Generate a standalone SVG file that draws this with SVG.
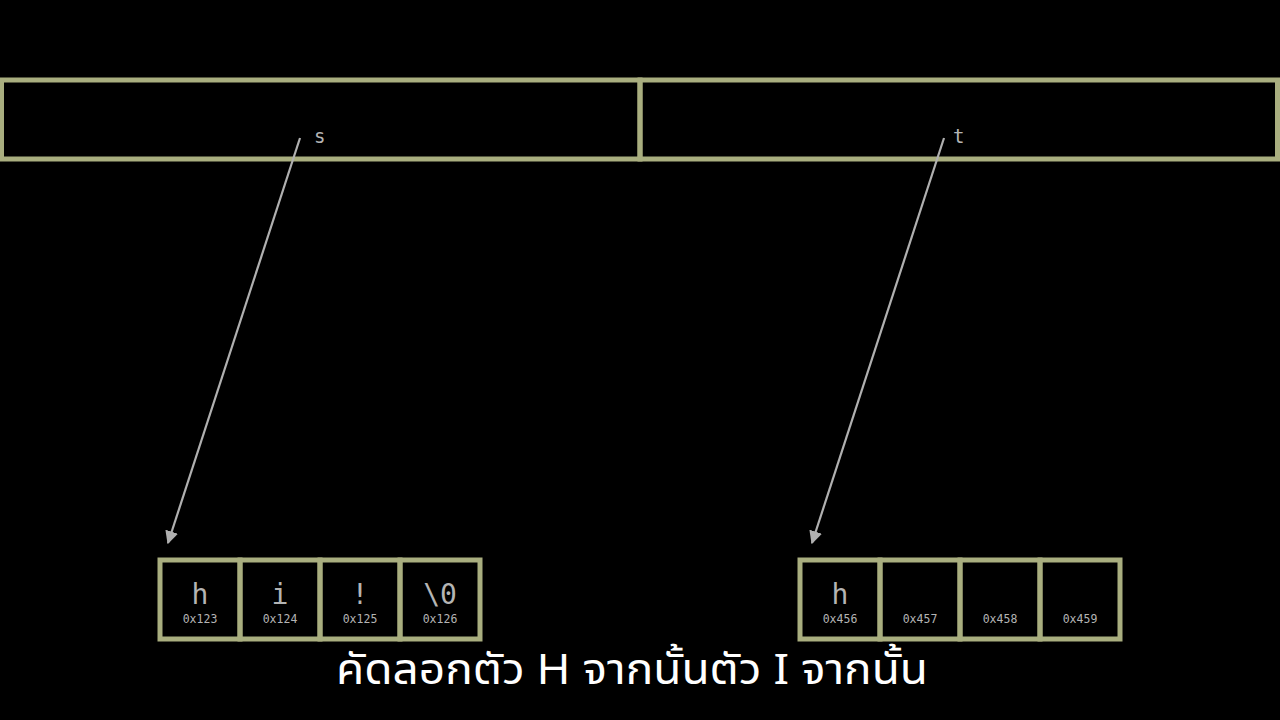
<svg xmlns="http://www.w3.org/2000/svg" width="1280" height="720" viewBox="0 0 1280 720">
<style>
.box{fill:none;stroke:#a9ae7f;stroke-width:5}
.ch{font-family:"DejaVu Sans Mono","Liberation Mono",monospace;font-size:28px;fill:#b4b4b4;text-anchor:middle}
.ad{font-family:"DejaVu Sans Mono","Liberation Mono",monospace;font-size:11.5px;fill:#b4b4b4;text-anchor:middle}
.lb{font-family:"DejaVu Sans Mono","Liberation Mono",monospace;font-size:19px;fill:#b4b4b4}
.arr{stroke:#b0b0b0;stroke-width:2.2;fill:none;marker-end:url(#ah)}
.cap{font-family:"Noto Sans Thai","Noto Sans","DejaVu Sans",sans-serif;font-size:42px;fill:#ffffff;text-anchor:middle}
</style>
<defs>
<marker id="ah" viewBox="0 0 10 10" refX="9" refY="5" markerWidth="6" markerHeight="6" orient="auto" markerUnits="strokeWidth">
<path d="M0,0 L10,5 L0,10 z" fill="#b0b0b0"/>
</marker>
</defs>
<rect width="1280" height="720" fill="#000"/>
<g id="stack">
<rect class="box" x="1.5" y="80" width="638.5" height="79"/>
<rect class="box" x="640" y="80" width="637.5" height="79"/>
<text class="lb" x="314" y="143">s</text>
<text class="lb" x="953" y="143">t</text>
</g>
<g id="array-s">
<rect class="box" x="160" y="560" width="80" height="79"/>
<rect class="box" x="240" y="560" width="80" height="79"/>
<rect class="box" x="320" y="560" width="80" height="79"/>
<rect class="box" x="400" y="560" width="80" height="79"/>
<text class="ch" x="200" y="604">h</text>
<text class="ch" x="280" y="604">i</text>
<text class="ch" x="360" y="604">!</text>
<text class="ch" x="440" y="604">\0</text>
<text class="ad" x="200" y="623">0x123</text>
<text class="ad" x="280" y="623">0x124</text>
<text class="ad" x="360" y="623">0x125</text>
<text class="ad" x="440" y="623">0x126</text>
</g>
<g id="array-t">
<rect class="box" x="800" y="560" width="80" height="79"/>
<rect class="box" x="880" y="560" width="80" height="79"/>
<rect class="box" x="960" y="560" width="80" height="79"/>
<rect class="box" x="1040" y="560" width="80" height="79"/>
<text class="ch" x="840" y="604">h</text>
<text class="ad" x="840" y="623">0x456</text>
<text class="ad" x="920" y="623">0x457</text>
<text class="ad" x="1000" y="623">0x458</text>
<text class="ad" x="1080" y="623">0x459</text>
</g>
<g id="connectors">
<line class="arr" x1="300" y1="138" x2="168" y2="543"/>
<line class="arr" x1="944" y1="138" x2="812" y2="543"/>
</g>
<text class="cap" x="632" y="684" textLength="592" lengthAdjust="spacingAndGlyphs">คัดลอกตัว H จากนั้นตัว I จากนั้น</text>
</svg>
